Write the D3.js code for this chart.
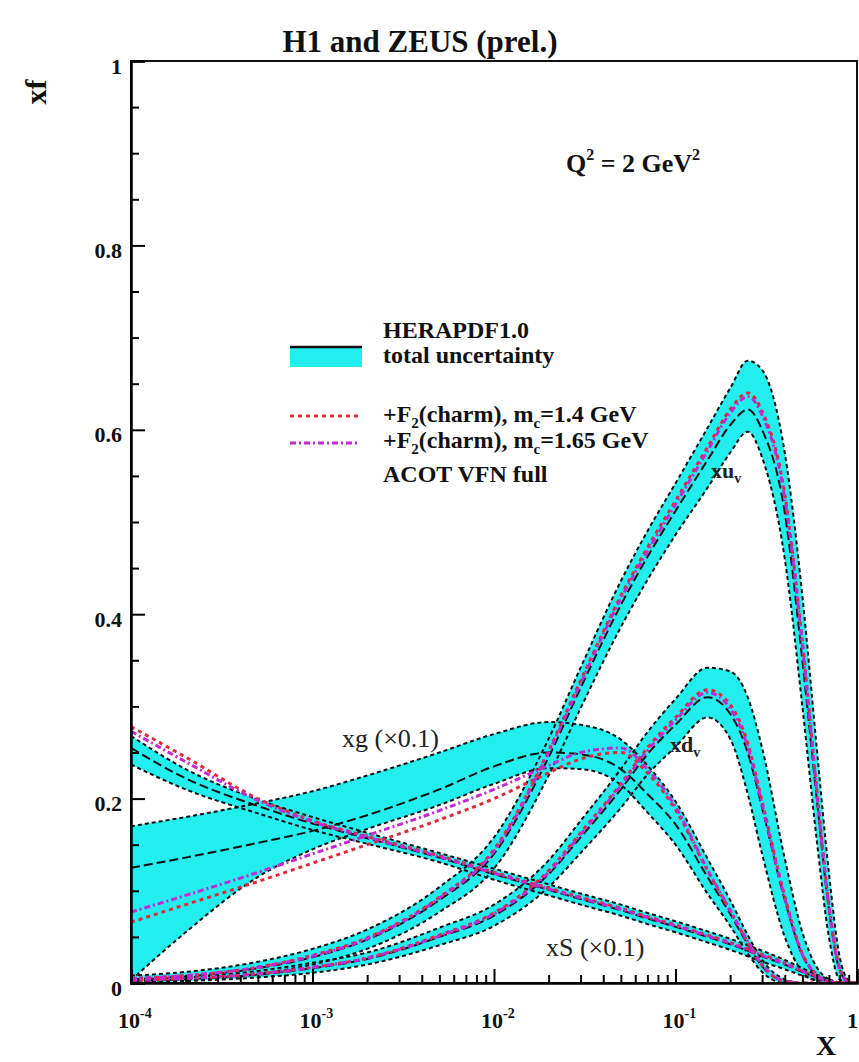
<!DOCTYPE html>
<html><head><meta charset="utf-8">
<script src="https://cdn.jsdelivr.net/npm/d3@7"></script>
<style>
html,body{margin:0;padding:0;background:#fff;}
svg{display:block;font-family:"Liberation Serif","Times New Roman",serif;}
</style></head><body>
<svg id="chart" width="859" height="1062"></svg>
<script>
// x grid shared by every PDF curve
const xGrid = [1e-4, 2e-4, 5e-4, 1e-3, 2e-3, 5e-3, 0.01, 0.02, 0.03, 0.05, 0.07, 0.1, 0.15, 0.2, 0.25, 0.3, 0.4, 0.5, 0.6, 0.7, 0.8, 0.9, 1];

// xu_v
const uvCentral = [0.004,0.007,0.016,0.028,0.047,0.09,0.14,0.245,0.32,0.41,0.462,0.512,0.567,0.605,0.622,0.6,0.51,0.35,0.2,0.08,0.015,0.001,0];
const uvUpper   = [0.008,0.012,0.023,0.037,0.058,0.104,0.158,0.265,0.342,0.436,0.49,0.542,0.602,0.645,0.675,0.665,0.575,0.42,0.255,0.12,0.03,0.003,0];
const uvLower   = [0.001,0.003,0.01,0.02,0.037,0.077,0.124,0.225,0.298,0.386,0.437,0.486,0.537,0.575,0.598,0.57,0.46,0.3,0.155,0.05,0.004,0,0];
const uvMc14    = [0.005,0.008,0.017,0.03,0.049,0.093,0.145,0.252,0.328,0.42,0.472,0.523,0.581,0.622,0.64,0.62,0.53,0.37,0.21,0.085,0.017,0.001,0];
const uvMc165   = [0.005,0.008,0.017,0.029,0.048,0.092,0.143,0.25,0.325,0.417,0.468,0.519,0.577,0.618,0.636,0.616,0.526,0.366,0.207,0.083,0.016,0.001,0];

// xd_v
const dvCentral = [0.002,0.004,0.009,0.016,0.026,0.05,0.073,0.118,0.158,0.21,0.248,0.28,0.31,0.292,0.25,0.19,0.09,0.03,0.008,0.001,0,0,0];
const dvUpper   = [0.004,0.006,0.013,0.022,0.033,0.06,0.085,0.133,0.176,0.232,0.272,0.308,0.342,0.338,0.31,0.255,0.135,0.055,0.017,0.004,0,0,0];
const dvLower   = [0,0.002,0.006,0.011,0.02,0.041,0.062,0.104,0.141,0.19,0.226,0.256,0.288,0.265,0.205,0.14,0.05,0.012,0.002,0,0,0,0];
const dvMc14    = [0.003,0.005,0.01,0.017,0.027,0.052,0.076,0.122,0.163,0.216,0.255,0.288,0.318,0.302,0.26,0.197,0.094,0.032,0.009,0.001,0,0,0];
const dvMc165   = [0.003,0.005,0.01,0.017,0.027,0.051,0.075,0.12,0.161,0.214,0.252,0.285,0.315,0.298,0.256,0.194,0.092,0.031,0.009,0.001,0,0,0];

// xg scaled by 0.1
const gCentral = [0.125,0.136,0.152,0.165,0.182,0.21,0.235,0.25,0.248,0.232,0.205,0.172,0.115,0.075,0.042,0.018,0.002,0,0,0,0,0,0];
const gUpper   = [0.17,0.18,0.195,0.208,0.225,0.25,0.27,0.283,0.28,0.264,0.236,0.197,0.135,0.09,0.052,0.025,0.004,0,0,0,0,0,0];
const gLower   = [0.003,0.055,0.115,0.145,0.167,0.193,0.216,0.233,0.232,0.215,0.185,0.15,0.097,0.062,0.032,0.012,0,0,0,0,0,0,0];
const gMc14    = [0.066,0.085,0.11,0.13,0.15,0.177,0.2,0.228,0.243,0.25,0.228,0.188,0.122,0.078,0.044,0.019,0.002,0,0,0,0,0,0];
const gMc165   = [0.077,0.095,0.12,0.14,0.16,0.187,0.21,0.236,0.25,0.255,0.232,0.191,0.123,0.079,0.045,0.02,0.002,0,0,0,0,0,0];

// xS scaled by 0.1
const sCentral = [0.255,0.222,0.192,0.173,0.157,0.136,0.118,0.101,0.091,0.079,0.07,0.061,0.05,0.042,0.035,0.029,0.02,0.012,0.006,0.002,0,0,0];
const sUpper   = [0.268,0.232,0.199,0.18,0.163,0.141,0.124,0.107,0.097,0.085,0.076,0.067,0.056,0.048,0.041,0.035,0.025,0.016,0.009,0.004,0.001,0,0];
const sLower   = [0.237,0.21,0.184,0.166,0.151,0.131,0.112,0.095,0.085,0.073,0.064,0.055,0.044,0.036,0.029,0.023,0.015,0.008,0.003,0,0,0,0];
const sMc14    = [0.278,0.245,0.2,0.176,0.159,0.138,0.12,0.103,0.093,0.081,0.072,0.063,0.052,0.044,0.037,0.031,0.022,0.013,0.007,0.002,0,0,0];
const sMc165   = [0.273,0.24,0.198,0.175,0.158,0.137,0.119,0.102,0.092,0.08,0.071,0.062,0.051,0.043,0.036,0.03,0.021,0.013,0.006,0.002,0,0,0];

// axis ticks
const yMajor = [0, 0.2, 0.4, 0.6, 0.8, 1];
const yMajorLabels = ["0", "0.2", "0.4", "0.6", "0.8", "1"];
const yMinor = [0.05,0.1,0.15,0.25,0.3,0.35,0.45,0.5,0.55,0.65,0.7,0.75,0.85,0.9,0.95];
const xMajor = [1e-4, 1e-3, 1e-2, 1e-1, 1];
const xMajorExp = ["-4", "-3", "-2", "-1", ""];

const legendLabels = ["HERAPDF1.0", "total uncertainty", "ACOT VFN full"];

const plot = {left: 131, right: 857, top: 61, bottom: 983};

const svg = d3.select("#chart");
const x = d3.scaleLog().domain([1e-4, 1]).range([plot.left, plot.right]);
const y = d3.scaleLinear().domain([0, 1]).range([plot.bottom, plot.top]);

const CYAN = "#22eeee";
const RED = "#dc2a3c";
const MAG = "#c02ad2";

svg.append("defs").append("clipPath").attr("id", "clip")
  .append("rect").attr("x", plot.left).attr("y", plot.top)
  .attr("width", plot.right - plot.left).attr("height", plot.bottom - plot.top);

const g = svg.append("g").attr("clip-path", "url(#clip)");

const zip = (arr) => xGrid.map((xv, i) => ({x: xv, v: arr[i]}));
const line = d3.line().x(d => x(d.x)).y(d => y(d.v)).curve(d3.curveMonotoneX);
const area = d3.area().x(d => x(d.x)).y0(d => y(d.lo)).y1(d => y(d.hi)).curve(d3.curveMonotoneX);

const pdfs = [
  {c: gCentral, u: gUpper, l: gLower, r: gMc14, m: gMc165},
  {c: sCentral, u: sUpper, l: sLower, r: sMc14, m: sMc165},
  {c: dvCentral, u: dvUpper, l: dvLower, r: dvMc14, m: dvMc165},
  {c: uvCentral, u: uvUpper, l: uvLower, r: uvMc14, m: uvMc165}
];

// uncertainty bands
pdfs.forEach(p => {
  const band = xGrid.map((xv, i) => ({x: xv, lo: p.l[i], hi: p.u[i]}));
  g.append("path").attr("d", area(band)).attr("fill", CYAN).attr("stroke", "none");
});
// band edges and central fits
pdfs.forEach(p => {
  [p.u, p.l].forEach(edge => {
    g.append("path").attr("d", line(zip(edge))).attr("fill", "none")
      .attr("stroke", "#111").attr("stroke-width", 2).attr("stroke-dasharray", "4,3");
  });
  g.append("path").attr("d", line(zip(p.c))).attr("fill", "none")
    .attr("stroke", "#111").attr("stroke-width", 2).attr("stroke-dasharray", "9,4");
});
// charm-mass variants
pdfs.forEach(p => {
  g.append("path").attr("d", line(zip(p.r))).attr("fill", "none")
    .attr("stroke", RED).attr("stroke-width", 3).attr("stroke-dasharray", "4,4");
  g.append("path").attr("d", line(zip(p.m))).attr("fill", "none")
    .attr("stroke", MAG).attr("stroke-width", 3).attr("stroke-dasharray", "6,3,2,3");
});

// frame
svg.append("rect").attr("x", plot.left).attr("y", plot.top)
  .attr("width", plot.right - plot.left).attr("height", plot.bottom - plot.top)
  .attr("fill", "none").attr("stroke", "#111").attr("stroke-width", 2);

// y axis
const yAx = svg.append("g").attr("transform", `translate(${plot.left},0)`)
  .call(d3.axisLeft(y).tickValues(yMajor).tickSize(-14).tickPadding(9)
    .tickFormat((d, i) => yMajorLabels[i]));
yAx.select(".domain").attr("stroke-width", 2.5);
yAx.selectAll(".tick line").attr("stroke-width", 2);
yAx.selectAll(".tick text").attr("font-size", 22).attr("font-weight", "bold")
  .attr("font-family", "Liberation Serif").attr("dy", "0.55em").attr("fill", "#111");
svg.append("g").attr("transform", `translate(${plot.left},0)`)
  .call(d3.axisLeft(y).tickValues(yMinor).tickSize(-8).tickFormat(""))
  .call(s => s.select(".domain").remove())
  .selectAll("line").attr("stroke-width", 2);

// x axis
const xMinor = [];
[1e-4, 1e-3, 1e-2, 1e-1].forEach(dec => { for (let k = 2; k <= 9; k++) xMinor.push(dec * k); });
const xAx = svg.append("g").attr("transform", `translate(0,${plot.bottom})`)
  .call(d3.axisBottom(x).tickValues(xMajor).tickSize(-14).tickFormat(""));
xAx.select(".domain").attr("stroke-width", 2.5);
xAx.selectAll(".tick line").attr("stroke-width", 2);
svg.append("g").attr("transform", `translate(0,${plot.bottom})`)
  .call(d3.axisBottom(x).tickValues(xMinor).tickSize(-8).tickFormat(""))
  .call(s => s.select(".domain").remove())
  .selectAll("line").attr("stroke-width", 2);

const xl = svg.append("g").attr("font-size", 22).attr("font-weight", "bold").attr("fill", "#111");
xMajor.forEach((v, i) => {
  const t = xl.append("text").attr("x", x(v) - (xMajorExp[i] ? 13 : 10)).attr("y", 1028);
  if (xMajorExp[i]) {
    t.append("tspan").text("10");
    t.append("tspan").attr("font-size", 14).attr("dy", -10).text(xMajorExp[i]);
  } else {
    t.text("1");
  }
});

// axis titles
svg.append("text").attr("x", 826).attr("y", 1055).attr("text-anchor", "middle")
  .attr("font-size", 28).attr("font-weight", "bold").attr("fill", "#111").text("X");
svg.append("text").attr("transform", "translate(46,92) rotate(-90)").attr("text-anchor", "middle")
  .attr("font-size", 30).attr("font-weight", "bold").attr("fill", "#111").text("xf");

// title and scale note
svg.append("text").attr("x", 420).attr("y", 52).attr("text-anchor", "middle")
  .attr("font-size", 31).attr("font-weight", "bold").attr("fill", "#111").text("H1 and ZEUS (prel.)");
const q = svg.append("text").attr("x", 566).attr("y", 172)
  .attr("font-size", 26).attr("font-weight", "bold").attr("fill", "#111");
q.append("tspan").text("Q");
q.append("tspan").attr("font-size", 16).attr("dy", -12).text("2");
q.append("tspan").attr("dy", 12).text(" = 2 GeV");
q.append("tspan").attr("font-size", 16).attr("dy", -12).text("2");

// curve labels
const lab = svg.append("g").attr("fill", "#222");
const uvT = lab.append("text").attr("x", 711).attr("y", 478).attr("font-size", 22).attr("font-weight", "bold");
uvT.append("tspan").text("xu");
uvT.append("tspan").attr("font-size", 14).attr("dy", 5).text("v");
const dvT = lab.append("text").attr("x", 670).attr("y", 752).attr("font-size", 22).attr("font-weight", "bold");
dvT.append("tspan").text("xd");
dvT.append("tspan").attr("font-size", 14).attr("dy", 5).text("v");
lab.append("text").attr("x", 342).attr("y", 747).attr("font-size", 26).text("xg (×0.1)");
lab.append("text").attr("x", 546).attr("y", 956).attr("font-size", 26).text("xS (×0.1)");

// legend
const lg = svg.append("g").attr("fill", "#111").attr("font-weight", "bold").attr("font-size", 24);
lg.append("rect").attr("x", 290).attr("y", 346).attr("width", 72).attr("height", 21).attr("fill", CYAN);
lg.append("line").attr("x1", 290).attr("x2", 362).attr("y1", 347).attr("y2", 347)
  .attr("stroke", "#111").attr("stroke-width", 2.5);
lg.append("text").attr("x", 383).attr("y", 338).text(legendLabels[0]);
lg.append("text").attr("x", 383).attr("y", 363).text(legendLabels[1]);
lg.append("line").attr("x1", 290).attr("x2", 360).attr("y1", 416).attr("y2", 416)
  .attr("stroke", RED).attr("stroke-width", 3).attr("stroke-dasharray", "4,4");
lg.append("line").attr("x1", 290).attr("x2", 360).attr("y1", 443).attr("y2", 443)
  .attr("stroke", MAG).attr("stroke-width", 3).attr("stroke-dasharray", "6,3,2,3");
const mcLabel = (yy, val) => {
  const t = lg.append("text").attr("x", 383).attr("y", yy);
  t.append("tspan").text("+F");
  t.append("tspan").attr("font-size", 15).attr("dy", 6).text("2");
  t.append("tspan").attr("dy", -6).text("(charm), m");
  t.append("tspan").attr("font-size", 15).attr("dy", 6).text("c");
  t.append("tspan").attr("dy", -6).text("=" + val + " GeV");
};
mcLabel(422, "1.4");
mcLabel(448, "1.65");
lg.append("text").attr("x", 383).attr("y", 482).text(legendLabels[2]);
</script>
</body></html>
